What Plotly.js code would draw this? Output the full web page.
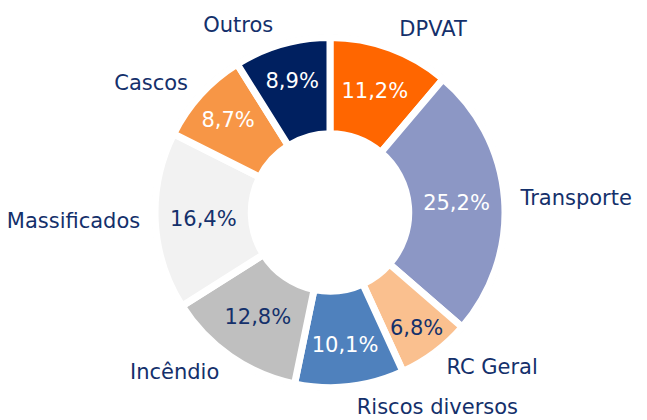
<!DOCTYPE html>
<html>
<head>
<meta charset="utf-8">
<script src="https://cdn.plot.ly/plotly-3.0.1.min.js"></script>
<style>html,body{margin:0;padding:0;background:#fff;}#chart{width:647px;height:420px;}</style>
</head>
<body>
<div id="chart"></div>
<script>
var categories = ["DPVAT", "Transporte", "RC Geral", "Riscos diversos", "Incêndio", "Massificados", "Cascos", "Outros"];
var shares = [11.2, 25.2, 6.8, 10.1, 12.8, 16.4, 8.7, 8.9];
var shareLabels = ["11,2%", "25,2%", "6,8%", "10,1%", "12,8%", "16,4%", "8,7%", "8,9%"];
var sliceColors = ["#FF6600", "#8C97C5", "#FAC08F", "#4F81BD", "#BFBFBF", "#F2F2F2", "#F79646", "#002060"];
var pctColors = ["#FFFFFF", "#FFFFFF", "#14306B", "#FFFFFF", "#14306B", "#14306B", "#FFFFFF", "#FFFFFF"];

var navy = "#14306B";
var fontFam = "DejaVu Sans, Verdana, sans-serif";
var dom = {x: [0.2396, 0.7805], y: [0.0774, 0.9107]};
var domShadow = {x: [0.2350, 0.7851], y: [0.0703, 0.9179]};
var domNames = {x: [0.2257, 0.7944], y: [0.0560, 0.9321]};

var shadow = {
  type: "pie", values: shares, labels: categories, sort: false, direction: "clockwise", rotation: 0,
  hole: 0.43, domain: domShadow, textinfo: "none", hoverinfo: "skip", showlegend: false,
  marker: {colors: shares.map(function(){return "rgba(0,0,0,0.07)";}), line: {width: 0}}
};

var main = {
  type: "pie", values: shares, labels: categories, sort: false, direction: "clockwise", rotation: 0,
  hole: 0.45, domain: dom, text: shareLabels, textinfo: "text", textposition: "inside",
  insidetextorientation: "horizontal", hoverinfo: "label+text", showlegend: false,
  insidetextfont: {family: fontFam, size: 21.5, color: pctColors},
  marker: {colors: sliceColors, line: {color: "#FFFFFF", width: 7}}
};

var names = {
  type: "pie", values: shares, labels: categories, sort: false, direction: "clockwise", rotation: 0,
  hole: 0.45, domain: domNames, textinfo: "label", textposition: "outside", hoverinfo: "skip", showlegend: false,
  outsidetextfont: {family: fontFam, size: 21, color: navy},
  automargin: false,
  marker: {colors: shares.map(function(){return "rgba(0,0,0,0)";}), line: {width: 0}}
};

var layout = {
  width: 647, height: 420,
  margin: {l: 0, r: 0, t: 0, b: 0},
  paper_bgcolor: "#FFFFFF",
  showlegend: false,
  uniformtext: {mode: "show", minsize: 21},
  font: {family: fontFam, color: navy}
};

Plotly.newPlot("chart", [shadow, main, names], layout, {displayModeBar: false, staticPlot: true});
</script>
</body>
</html>
